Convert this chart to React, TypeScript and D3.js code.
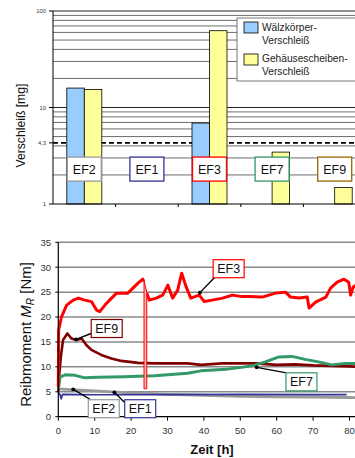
import React from 'react';
import * as d3 from 'd3';

// ---------- Top chart data (wear, log scale) ----------
const categories = ['EF2', 'EF1', 'EF3', 'EF7', 'EF9'];
const rollingWear: (number | null)[] = [15.9, null, 6.9, null, null];
const housingWear: (number | null)[] = [15.4, null, 62.5, 3.45, 1.48];
const categoryColors = ['#999999', '#333399', '#ff0000', '#339966', '#996600'];
const wearTicks = [1, 4.3, 10, 100];
const wearTickLabels = ['1', '4,3', '10', '100'];
const wearGrid = [2, 3, 4, 5, 6, 7, 8, 9, 10, 20, 30, 40, 50, 60, 70, 80, 90, 100];
const limitValue = 4.3;
const labelLevel = 2.3;
const legendLabels = [['Wälzkörper-', 'Verschleiß'], ['Gehäusescheiben-', 'Verschleiß']];

// ---------- Bottom chart data (friction torque) ----------
const timeTicks = [0, 10, 20, 30, 40, 50, 60, 70, 80];
const torqueTicks = [0, 5, 10, 15, 20, 25, 30, 35];

// EF3 before the drop
const ef3aT = [0, 0.1, 0.9, 2.3, 4.1, 5.5, 7.3, 9.1, 10.5, 11.4, 12.8, 14.1, 16, 17.3, 19.1, 20.5, 21.9, 23.2, 23.5];
const ef3aV = [6, 17.4, 20.1, 22.4, 23.4, 23.8, 23.4, 23.1, 21.4, 21.1, 22.4, 23.4, 24.8, 24.8, 24.8, 25.8, 26.8, 27.6, 27.2];
// EF3 after the drop
const ef3bT = [24.3, 25, 26.9, 28.7, 30.1, 31.4, 32.8, 33.9, 35.1, 36.4, 38.7, 40.1, 42.3, 45.1, 47.8, 50.5, 52.4, 56, 59.7, 62.4, 63.8, 66.1, 68.4, 68.9, 70.7, 73.5, 74.8, 76.6, 78.5, 79.8, 80.3, 81, 83];
const ef3bV = [24.8, 23.4, 23.8, 24.4, 26.4, 23.8, 25.4, 28.8, 26.1, 23.8, 24.4, 23.1, 23.4, 23.8, 24.4, 24.1, 24.1, 24, 24.8, 25, 24, 23.8, 24, 21.8, 23, 24, 25.8, 27, 27.6, 27, 24.4, 26, 27];
// EF3 short drop (sensor dip)
const ef3GapT = [23.55, 24.3];
const ef3GapTop = [27.3, 25.0];
const ef3GapBottom = [5.6, 5.6];

const ef9T = [0, 0.3, 0.7, 1.3, 2.5, 3.6, 5, 6.4, 7.7, 9.1, 11.8, 14.6, 17.3, 21.9, 26.4, 31, 35.5, 39.2, 45, 54, 60, 65, 70, 75, 80, 83];
const ef9V = [5, 8.7, 12, 15.4, 16.7, 15.7, 15.4, 15.7, 14.4, 13.4, 12.4, 11.7, 11.2, 10.8, 10.7, 10.7, 10.7, 10.4, 10.7, 10.7, 10.4, 10.5, 10.3, 10.2, 10.1, 10];

const ef7T = [0, 0.5, 1.9, 4.6, 7.3, 10.9, 18, 26.4, 35.5, 39.2, 46, 53.3, 56.9, 60.6, 64.2, 67.8, 71.5, 75.1, 78.8, 83];
const ef7V = [5.5, 8, 8.4, 8.3, 7.8, 7.9, 8.0, 8.2, 8.7, 9.2, 9.5, 10.2, 11, 12, 12.1, 11.5, 11, 10.4, 10.7, 10.7];

const ef1T = [0, 0.5, 0.8, 1.2, 10, 30, 50, 70, 79.2];
const ef1V = [4.9, 4.4, 3.6, 4.5, 4.4, 4.45, 4.5, 4.45, 4.45];

const ef2T = [0, 5, 10, 20, 30, 40, 50, 60, 70, 80, 83];
const ef2V = [5.6, 5.4, 5.2, 4.8, 4.5, 4.3, 4.1, 4.0, 3.95, 3.85, 3.8];

const annotationLabels = ['EF3', 'EF9', 'EF7', 'EF2', 'EF1'];
const annotationColors = ['#ff0000', '#800000', '#339966', '#999999', '#333399'];
const annotationPointT = [38.9, 4.9, 54.5, 4.1, 15.4];
const annotationPointV = [24.9, 15.5, 9.9, 5.5, 4.9];
const annotationBoxT = [46.8, 13.3, 66.8, 12.5, 22.5];
const annotationBoxV = [29.7, 17.7, 7.0, 1.6, 1.6];
const annotationLeaderT = [43.0, 9.0, 62.7, 8.7, 18.3];
const annotationLeaderV = [28.0, 16.7, 8.8, 3.5, 2.8];

const FONT = '"Liberation Sans", Arial, sans-serif';

export default function App() {
  // ---- top scales
  const x1 = d3.scaleBand<string>().domain(categories).range([53, 366]).padding(0);
  const y1 = d3.scaleLog().domain([1, 100]).range([204, 11]);
  const barW = 17.5;

  // ---- bottom scales
  const x2 = d3.scaleLinear().domain([0, 90]).range([58.3, 58.3 + 90 * 3.64]);
  const y2 = d3.scaleLinear().domain([0, 35]).range([416.7, 242.3]);

  const line = (ts: number[], vs: number[]) =>
    d3.line<number>().x((_, i) => x2(ts[i])).y((v) => y2(v))(vs) || '';

  const gapArea = d3
    .area<number>()
    .x((t) => x2(t))
    .y0((_, i) => y2(ef3GapBottom[i]))
    .y1((_, i) => y2(ef3GapTop[i]))(ef3GapT) || '';

  const series = [
    { t: ef2T, v: ef2V, c: '#9a9a9a', w: 2.8 },
    { t: ef1T, v: ef1V, c: '#333399', w: 1.7 },
    { t: ef9T, v: ef9V, c: '#800000', w: 2.6 },
    { t: ef7T, v: ef7V, c: '#339966', w: 3 },
    { t: ef3aT, v: ef3aV, c: '#ff0000', w: 3 },
    { t: ef3bT, v: ef3bV, c: '#ff0000', w: 3 },
  ];

  return (
    <svg width={355} height={458} style={{ position: 'absolute', left: 0, top: 0, background: '#fff' }} fontFamily={FONT}>
      <rect x={0} y={0} width={355} height={458} fill="#fff" />
      {/* ================= TOP CHART ================= */}
      {wearGrid.map((g) => (
        <line key={'g' + g} x1={53} x2={355} y1={y1(g)} y2={y1(g)} stroke={g === 10 || g === 100 ? '#222' : '#6e6e6e'} strokeWidth={1} />
      ))}
      <line x1={53} x2={355} y1={y1(limitValue)} y2={y1(limitValue)} stroke="#000" strokeWidth={1.6} strokeDasharray="5,3" />
      {categories.map((c, i) => {
        const cx = (x1(c) as number) + x1.bandwidth() / 2;
        return (
          <g key={c}>
            {rollingWear[i] != null && (
              <rect x={cx - barW} y={y1(rollingWear[i] as number)} width={barW} height={y1(1) - y1(rollingWear[i] as number)} fill="#99ccff" stroke="#000" strokeWidth={0.8} />
            )}
            {housingWear[i] != null && (
              <rect x={cx} y={y1(housingWear[i] as number)} width={barW} height={y1(1) - y1(housingWear[i] as number)} fill="#ffff99" stroke="#000" strokeWidth={0.8} />
            )}
          </g>
        );
      })}
      {categories.map((c, i) => {
        const cx = (x1(c) as number) + x1.bandwidth() / 2;
        const cy = y1(labelLevel);
        return (
          <g key={'l' + c}>
            <rect x={cx - 17} y={cy - 12} width={34} height={24} fill="#fff" stroke={categoryColors[i]} strokeWidth={1.3} />
            <text x={cx} y={cy + 4.5} textAnchor="middle" fontSize={12.5} fill="#111">{c}</text>
          </g>
        );
      })}
      {/* axes */}
      <line x1={53} x2={53} y1={y1(100)} y2={y1(1)} stroke="#000" strokeWidth={1} />
      <line x1={53} x2={355} y1={y1(1)} y2={y1(1)} stroke="#000" strokeWidth={1} />
      {categories.slice(1).map((c) => (
        <line key={'t' + c} x1={x1(c) as number} x2={x1(c) as number} y1={y1(1)} y2={y1(1) + 3} stroke="#000" />
      ))}
      {wearTicks.map((t, i) => (
        <g key={'wt' + t}>
          <line x1={49} x2={53} y1={y1(t)} y2={y1(t)} stroke="#000" />
          <text x={46} y={y1(t) + 2} textAnchor="end" fontSize={5.8} fill="#333">{wearTickLabels[i]}</text>
        </g>
      ))}
      <text transform={`translate(25,${y1(6.5)}) rotate(-90)`} textAnchor="middle" fontSize={12.2} fill="#111">Verschleiß [mg]</text>
      {/* legend */}
      <rect x={237} y={18} width={130} height={63} fill="#fff" stroke="#555" strokeWidth={0.8} />
      <rect x={244} y={22} width={14} height={11} fill="#99ccff" stroke="#000" strokeWidth={0.8} />
      <rect x={244} y={54} width={14} height={11} fill="#ffff99" stroke="#000" strokeWidth={0.8} />
      <text x={262} y={31} fontSize={10.2} fill="#222">{legendLabels[0][0]}</text>
      <text x={262} y={44} fontSize={10.2} fill="#222">{legendLabels[0][1]}</text>
      <text x={262} y={62} fontSize={10.2} fill="#222">{legendLabels[1][0]}</text>
      <text x={262} y={75} fontSize={10.2} fill="#222">{legendLabels[1][1]}</text>

      {/* ================= BOTTOM CHART ================= */}
      {torqueTicks.slice(1).map((t) => (
        <line key={'bg' + t} x1={x2(0)} x2={355} y1={y2(t)} y2={y2(t)} stroke="#8a8a8a" strokeWidth={1.5} />
      ))}
      {series.map((s, i) => (
        <path key={'s' + i} d={line(s.t, s.v)} fill="none" stroke={s.c} strokeWidth={s.w} strokeLinejoin="round" />
      ))}
      <path d={gapArea} fill="#ffb3b3" stroke="#ff0000" strokeWidth={1} />
      <line x1={x2(0)} x2={x2(0)} y1={y2(35)} y2={y2(0)} stroke="#000" strokeWidth={1.2} />
      <line x1={x2(0)} x2={355} y1={y2(0)} y2={y2(0)} stroke="#000" strokeWidth={1.2} />
      {torqueTicks.map((t) => (
        <g key={'yt' + t}>
          <line x1={x2(0) - 3} x2={x2(0)} y1={y2(t)} y2={y2(t)} stroke="#000" />
          <text x={51} y={y2(t) + 3.3} textAnchor="end" fontSize={9.5} fill="#333">{t}</text>
        </g>
      ))}
      {timeTicks.map((t) => (
        <g key={'xt' + t}>
          <line x1={x2(t)} x2={x2(t)} y1={y2(0)} y2={y2(0) + 4} stroke="#000" />
          <text x={x2(t)} y={434} textAnchor="middle" fontSize={9.5} fill="#333">{t}</text>
        </g>
      ))}
      <text x={212} y={454} textAnchor="middle" fontSize={13} fontWeight="bold" fill="#111">Zeit [h]</text>
      <text transform={`translate(31,${y2(16.5)}) rotate(-90)`} textAnchor="middle" fontSize={15} fill="#111">
        Reibmoment <tspan fontStyle="italic">M</tspan><tspan fontStyle="italic" fontSize={10} dy={3}>R</tspan><tspan dy={-3}> [Nm]</tspan>
      </text>
      {annotationLabels.map((lab, i) => {
        const px = x2(annotationPointT[i]);
        const py = y2(annotationPointV[i]);
        const lx = x2(annotationLeaderT[i]);
        const ly = y2(annotationLeaderV[i]);
        const bx = x2(annotationBoxT[i]);
        const by = y2(annotationBoxV[i]);
        return (
          <g key={'a' + lab}>
            <line x1={px} y1={py} x2={lx} y2={ly} stroke="#000" strokeWidth={1.4} />
            <circle cx={px} cy={py} r={1.9} fill="#000" />
            <rect x={bx - 15.5} y={by - 9} width={31} height={18} fill="#fff" stroke={annotationColors[i]} strokeWidth={1.2} />
            <text x={bx} y={by + 4.5} textAnchor="middle" fontSize={12.5} fill="#111">{lab}</text>
          </g>
        );
      })}
    </svg>
  );
}
